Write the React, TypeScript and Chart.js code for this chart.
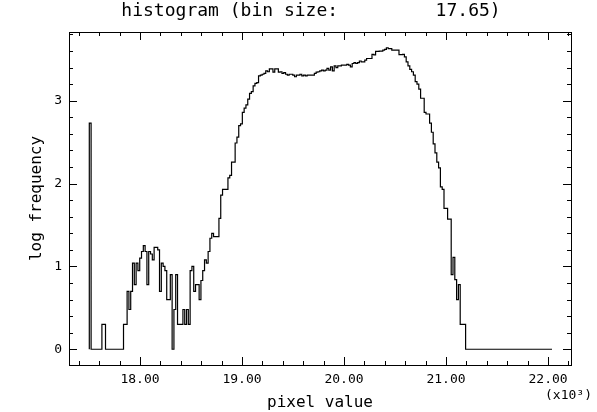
import React, { useEffect, useRef } from "react";
import { Chart, registerables } from "chart.js";

Chart.register(...registerables);

const TITLE = "histogram (bin size:         17.65)";
const X_LABEL = "pixel value";
const Y_LABEL = "log frequency";
const X_SCALE_NOTE = "(x10\u00B3)";

const BIN_START = 17503;
const BIN_SIZE = 17.65;

// log10(count) per bin
const LOG_FREQ = [
  2.73, 0, 0, 0, 0, 0, 0, 0.30, 0.30, 0,
  0, 0, 0, 0, 0, 0, 0, 0, 0, 0.30,
  0.30, 0.70, 0.48, 0.70, 1.04, 0.78, 1.04, 0.95, 1.10, 1.18,
  1.25, 1.18, 0.78, 1.18, 1.15, 1.08, 1.23, 1.23, 1.20, 0.70,
  1.04, 1.00, 0.95, 0.60, 0.60, 0.90, 0, 0.48, 0.90, 0.30,
  0.30, 0.30, 0.48, 0.30, 0.48, 0.30, 0.95, 1.00, 0.70, 0.78,
  0.78, 0.60, 0.83, 0.95, 1.08, 1.04, 1.18, 1.34, 1.40, 1.36,
  1.36, 1.36, 1.58, 1.86, 1.93, 1.93, 1.93, 2.07, 2.10, 2.26,
  2.26, 2.49, 2.56, 2.70, 2.72, 2.86, 2.91, 2.95, 3.02, 3.09,
  3.11, 3.18, 3.21, 3.22, 3.30, 3.31, 3.32, 3.33, 3.36, 3.35,
  3.385, 3.385, 3.345, 3.385, 3.385, 3.345, 3.35, 3.33, 3.34, 3.32,
  3.31, 3.32, 3.32, 3.31, 3.29, 3.31, 3.31, 3.32, 3.30, 3.31,
  3.30, 3.31, 3.31, 3.31, 3.31, 3.33, 3.345, 3.35, 3.36, 3.37,
  3.36, 3.37, 3.39, 3.37, 3.41, 3.36, 3.42, 3.40, 3.42, 3.42,
  3.43, 3.43, 3.43, 3.44, 3.43, 3.41, 3.45, 3.46, 3.45, 3.46,
  3.48, 3.47, 3.47, 3.49, 3.51, 3.51, 3.51, 3.56, 3.555, 3.595,
  3.595, 3.60, 3.60, 3.61, 3.62, 3.64, 3.63, 3.63, 3.61, 3.61,
  3.61, 3.61, 3.556, 3.556, 3.56, 3.53, 3.47, 3.42, 3.38, 3.35,
  3.31, 3.23, 3.20, 3.14, 3.03, 3.03, 2.86, 2.84, 2.84, 2.73,
  2.62, 2.48, 2.37, 2.26, 2.19, 1.96, 1.93, 1.70, 1.70, 1.57,
  1.57, 0.90, 1.11, 0.84, 0.60, 0.78, 0.30, 0.30, 0.30, 0,
  0, 0, 0, 0, 0, 0, 0, 0, 0, 0,
  0, 0, 0, 0, 0, 0, 0, 0, 0, 0,
  0, 0, 0, 0, 0, 0, 0, 0, 0, 0,
  0, 0, 0, 0, 0, 0, 0, 0, 0, 0,
  0, 0, 0, 0, 0, 0, 0,
];

const X_MIN = 17304;
const X_MAX = 22225;
const Y_MIN = -0.19;
const Y_MAX = 3.83;

const X_MAJOR_STEP = 1000;
const X_MINOR_STEP = 200;
const X_TICK_DIVISOR = 1000;
const Y_MAJOR_EVERY = 5;
const Y_MINOR_STEP = 0.2;

const FONT = '"DejaVu Sans Mono", monospace';

const framePlugin = {
  id: "pgFrame",
  afterDraw(chart: any) {
    const { ctx, chartArea } = chart;
    const xs = chart.scales.x;
    const ys = chart.scales.y;
    const { left, right, top, bottom } = chartArea;
    ctx.save();
    ctx.strokeStyle = "#000";
    ctx.fillStyle = "#000";
    ctx.lineWidth = 1;
    ctx.strokeRect(Math.round(left) + 0.5, Math.round(top) + 0.5, Math.round(right - left), Math.round(bottom - top));

    // x ticks (top & bottom, inward)
    ctx.beginPath();
    const firstX = Math.ceil(X_MIN / X_MINOR_STEP) * X_MINOR_STEP;
    for (let v = firstX; v <= X_MAX; v += X_MINOR_STEP) {
      const px = Math.round(xs.getPixelForValue(v)) + 0.5;
      const len = v % X_MAJOR_STEP === 0 ? 8 : 4;
      ctx.moveTo(px, bottom);
      ctx.lineTo(px, bottom - len);
      ctx.moveTo(px, top);
      ctx.lineTo(px, top + len);
    }
    // y ticks (left & right, inward)
    const kMin = Math.ceil(Y_MIN / Y_MINOR_STEP - 1e-9);
    const kMax = Math.floor(Y_MAX / Y_MINOR_STEP + 1e-9);
    for (let k = kMin; k <= kMax; k++) {
      const v = k * Y_MINOR_STEP;
      const py = Math.round(ys.getPixelForValue(v)) + 0.5;
      const len = k % Y_MAJOR_EVERY === 0 ? 8 : 4;
      ctx.moveTo(left, py);
      ctx.lineTo(left + len, py);
      ctx.moveTo(right, py);
      ctx.lineTo(right - len, py);
    }
    ctx.stroke();

    // tick labels
    ctx.font = `13px ${FONT}`;
    ctx.textAlign = "center";
    ctx.textBaseline = "middle";
    const firstMajX = Math.ceil(X_MIN / X_MAJOR_STEP) * X_MAJOR_STEP;
    for (let v = firstMajX; v <= X_MAX; v += X_MAJOR_STEP) {
      const px = xs.getPixelForValue(v);
      ctx.fillText((v / X_TICK_DIVISOR).toFixed(2), px, bottom + 15);
    }
    ctx.textAlign = "right";
    for (let k = kMin; k <= kMax; k++) {
      if (k % Y_MAJOR_EVERY !== 0 || k < 0) continue;
      const v = k * Y_MINOR_STEP;
      const py = ys.getPixelForValue(v);
      ctx.fillText(String(Math.round(v)), left - 7, py);
    }
    // multiplier note
    ctx.textAlign = "right";
    ctx.fillText(X_SCALE_NOTE, right + 21, bottom + 31);

    // axis titles
    ctx.font = `16px ${FONT}`;
    ctx.textAlign = "center";
    ctx.fillText(X_LABEL, (left + right) / 2, bottom + 38);
    ctx.save();
    ctx.translate(left - 32, (top + bottom) / 2);
    ctx.rotate(-Math.PI / 2);
    ctx.fillText(Y_LABEL, 0, 0);
    ctx.restore();

    // title
    ctx.font = `18px ${FONT}`;
    ctx.textAlign = "center";
    ctx.fillText(TITLE, (left + right) / 2 - 9, top - 21);
    ctx.restore();
  },
};

export default function App() {
  const ref = useRef<HTMLCanvasElement | null>(null);
  useEffect(() => {
    if (!ref.current) return;
    const n = LOG_FREQ.length;
    const pts = [{ x: BIN_START, y: 0 }];
    LOG_FREQ.forEach((v, i) => pts.push({ x: BIN_START + i * BIN_SIZE, y: v }));
    pts.push({ x: BIN_START + n * BIN_SIZE, y: LOG_FREQ[n - 1] });
    const chart = new Chart(ref.current, {
      type: "line",
      data: {
        datasets: [
          {
            data: pts,
            borderColor: "#000",
            borderWidth: 1.2,
            pointRadius: 0,
            fill: false,
            stepped: "before",
            tension: 0,
          },
        ],
      },
      options: {
        animation: false,
        responsive: false,
        devicePixelRatio: 1,
        layout: { padding: { left: 69, right: 26, top: 32, bottom: 47 } },
        scales: {
          x: { type: "linear", min: X_MIN, max: X_MAX, display: false },
          y: { type: "linear", min: Y_MIN, max: Y_MAX, display: false },
        },
        plugins: {
          legend: { display: false },
          tooltip: { enabled: false },
          title: { display: false },
        },
      },
      plugins: [framePlugin],
    });
    return () => chart.destroy();
  }, []);
  return (
    <div style={{ position: "fixed", left: 0, top: 0, width: 597, height: 412, background: "#fff" }}>
      <canvas ref={ref} width={597} height={412} />
    </div>
  );
}
